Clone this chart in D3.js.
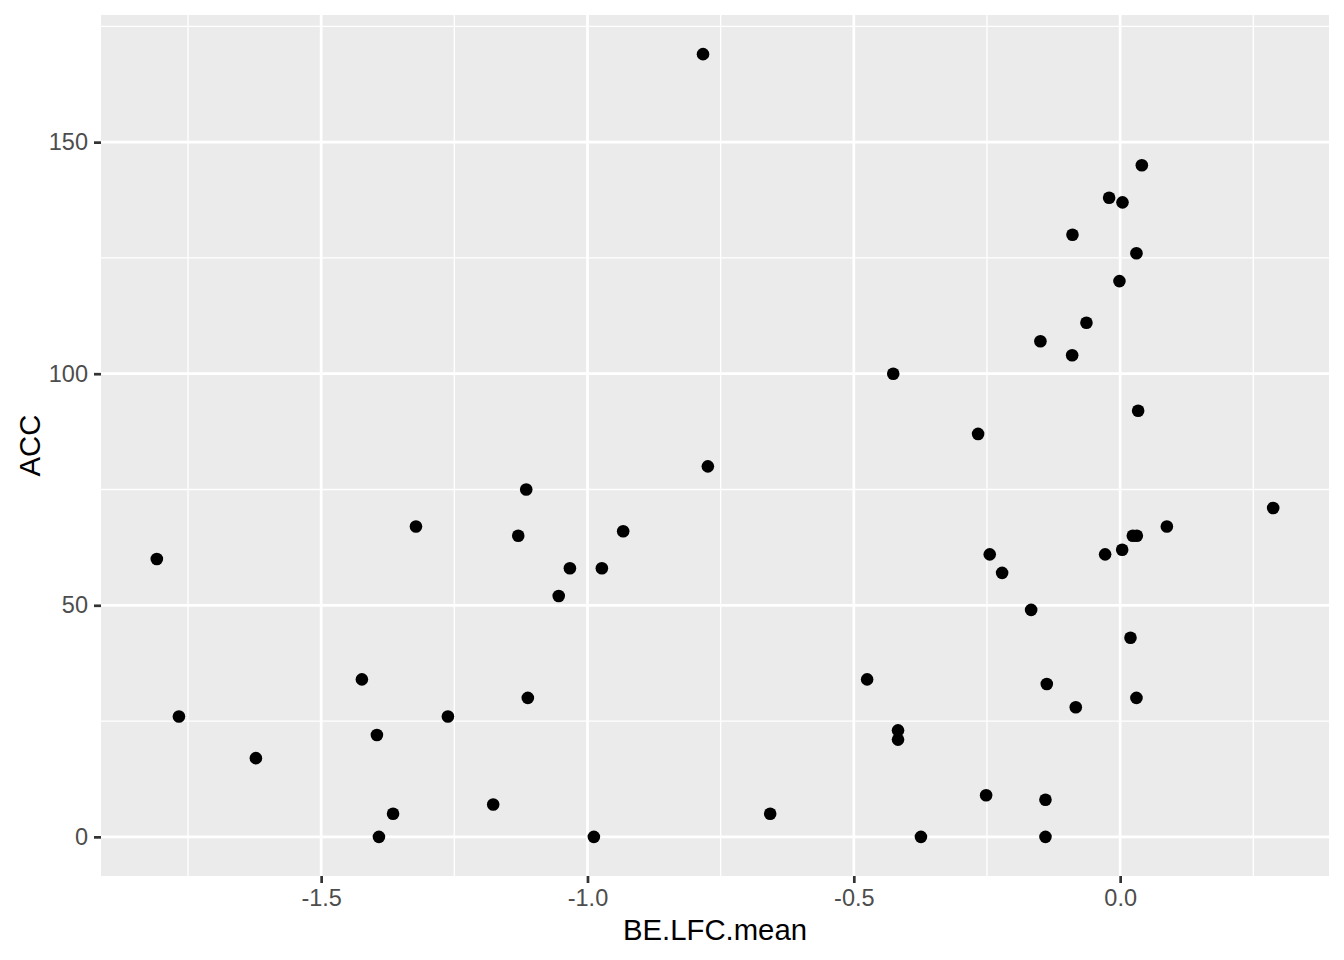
<!DOCTYPE html>
<html>
<head>
<meta charset="utf-8">
<script src="https://cdn.jsdelivr.net/npm/d3@7"></script>
<style>
  html, body { margin: 0; padding: 0; background: #ffffff; }
  svg { display: block; font-family: "Liberation Sans", Arial, Helvetica, sans-serif; }
</style>
</head>
<body>
<svg id="chart" width="1344" height="960"></svg>
<script>
// Data
const beLfcMean = [
  -0.7831, -1.8085, -1.767, -1.6225, -1.4235, -1.3953, -1.3915, -1.365, -1.322, -1.262,
  -1.177, -1.130, -1.115, -1.112, -1.054, -1.033, -0.988, -0.973, -0.933, -0.774,
  -0.657, -0.475, -0.426, -0.417, -0.417, -0.374, -0.2667, -0.2516, -0.2448, -0.2216,
  -0.1671, -0.1497, -0.1402, -0.1402, -0.1377, -0.0895, -0.0901, -0.0833, -0.0633, -0.0282,
  -0.0207, -0.0013, 0.0038, 0.0044, 0.0194, 0.0238, 0.0306, 0.0313, 0.0306, 0.0338,
  0.0407, 0.0877, 0.2873
];
const acc = [
  169, 60, 26, 17, 34, 22, 0, 5, 67, 26,
  7, 65, 75, 30, 52, 58, 0, 58, 66, 80,
  5, 34, 100, 23, 21, 0, 87, 9, 61, 57,
  49, 107, 8, 0, 33, 130, 104, 28, 111, 61,
  138, 120, 62, 137, 43, 65, 126, 65, 30, 92,
  145, 67, 71
];
const xTicks = [-1.5, -1.0, -0.5, 0.0];
const xTickLabels = ["-1.5", "-1.0", "-0.5", "0.0"];
const yTicks = [0, 50, 100, 150];
const yTickLabels = ["0", "50", "100", "150"];
const xMinor = [-1.75, -1.25, -0.75, -0.25, 0.25];
const yMinor = [25, 75, 125, 175];
const xTitle = "BE.LFC.mean";
const yTitle = "ACC";

const svg = d3.select("#chart");
const panel = { left: 101, top: 15, right: 1329, bottom: 876 };

// ggplot-style 5% expansion
const xExt = d3.extent(beLfcMean), yExt = d3.extent(acc);
const xPad = (xExt[1] - xExt[0]) * 0.05, yPad = (yExt[1] - yExt[0]) * 0.05;
const x = d3.scaleLinear().domain([xExt[0] - xPad, xExt[1] + xPad]).range([panel.left, panel.right]);
const y = d3.scaleLinear().domain([yExt[0] - yPad, yExt[1] + yPad]).range([panel.bottom, panel.top]);

// panel background
svg.append("rect")
  .attr("x", panel.left).attr("y", panel.top)
  .attr("width", panel.right - panel.left).attr("height", panel.bottom - panel.top)
  .attr("fill", "#EBEBEB");

const grid = svg.append("g");
// minor grid
grid.selectAll(".xminor").data(xMinor.filter(v => x(v) > panel.left && x(v) < panel.right)).join("line")
  .attr("x1", d => x(d)).attr("x2", d => x(d)).attr("y1", panel.top).attr("y2", panel.bottom)
  .attr("stroke", "#ffffff").attr("stroke-width", 1.35);
grid.selectAll(".yminor").data(yMinor.filter(v => y(v) > panel.top && y(v) < panel.bottom)).join("line")
  .attr("y1", d => y(d)).attr("y2", d => y(d)).attr("x1", panel.left).attr("x2", panel.right)
  .attr("stroke", "#ffffff").attr("stroke-width", 1.35);
// major grid
grid.selectAll(".xmajor").data(xTicks).join("line")
  .attr("x1", d => x(d)).attr("x2", d => x(d)).attr("y1", panel.top).attr("y2", panel.bottom)
  .attr("stroke", "#ffffff").attr("stroke-width", 2.7);
grid.selectAll(".ymajor").data(yTicks).join("line")
  .attr("y1", d => y(d)).attr("y2", d => y(d)).attr("x1", panel.left).attr("x2", panel.right)
  .attr("stroke", "#ffffff").attr("stroke-width", 2.7);

// axes
const xAxis = d3.axisBottom(x).tickValues(xTicks).tickFormat((d, i) => xTickLabels[i]).tickSize(7).tickPadding(6);
const yAxis = d3.axisLeft(y).tickValues(yTicks).tickFormat((d, i) => yTickLabels[i]).tickSize(7).tickPadding(6);

const gx = svg.append("g").attr("transform", `translate(0,${panel.bottom})`).call(xAxis);
const gy = svg.append("g").attr("transform", `translate(${panel.left},0)`).call(yAxis);
[gx, gy].forEach(g => {
  g.select(".domain").remove();
  g.selectAll(".tick line").attr("stroke", "#333333").attr("stroke-width", 2.7);
  g.selectAll(".tick text").attr("fill", "#4D4D4D").style("font-size", "23.5px")
    .style("font-family", "'Liberation Sans', Arial, sans-serif");
});

// points
svg.append("g").selectAll("circle").data(beLfcMean.map((v, i) => [v, acc[i]])).join("circle")
  .attr("cx", d => x(d[0])).attr("cy", d => y(d[1])).attr("r", 6.3).attr("fill", "#000000");

// titles
svg.append("text").attr("x", (panel.left + panel.right) / 2).attr("y", 940)
  .attr("text-anchor", "middle").attr("fill", "#000").style("font-size", "29.3px").text(xTitle);
svg.append("text").attr("transform", `translate(40,${(panel.top + panel.bottom) / 2}) rotate(-90)`)
  .attr("text-anchor", "middle").attr("fill", "#000").style("font-size", "29.3px").text(yTitle);
</script>
</body>
</html>
